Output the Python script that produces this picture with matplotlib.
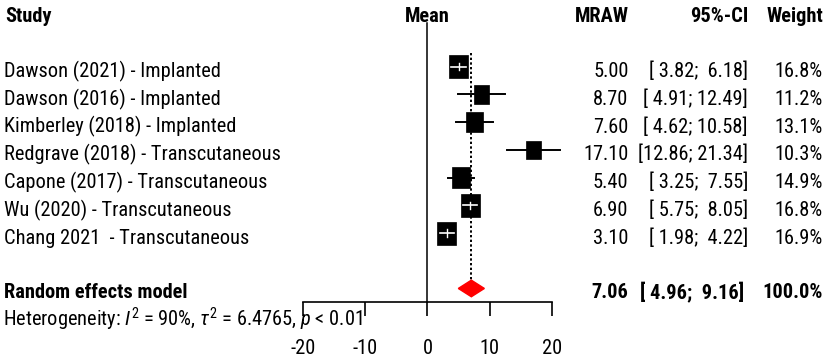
import numpy as np
import matplotlib
matplotlib.use("Agg")
import matplotlib.pyplot as plt
from matplotlib import font_manager
from matplotlib.patches import Rectangle, Polygon
from matplotlib.transforms import blended_transform_factory

# ---------------- data ----------------
studies = ["Dawson (2021) - Implanted", "Dawson (2016) - Implanted",
           "Kimberley (2018) - Implanted", "Redgrave (2018) - Transcutaneous",
           "Capone (2017) - Transcutaneous", "Wu (2020) - Transcutaneous",
           "Chang 2021  - Transcutaneous"]
means = [5.00, 8.70, 7.60, 17.10, 5.40, 6.90, 3.10]
lowers = [3.82, 4.91, 4.62, 12.86, 3.25, 5.75, 1.98]
uppers = [6.18, 12.49, 10.58, 21.34, 7.55, 8.05, 4.22]
weights = [16.8, 11.2, 13.1, 10.3, 14.9, 16.8, 16.9]
pooled_label = "Random effects model"
pooled_mean = 7.06
pooled_lower = 4.96
pooled_upper = 9.16
pooled_weight = 100.0
heterogeneity = r"Heterogeneity: $I^2$ = 90%, $\tau^2$ = 6.4765, $p$ < 0.01"
xticks = [-20, -10, 0, 10, 20]
headers = ["Study", "Mean", "MRAW", "95%-CI", "Weight"]

# ---------------- fonts ----------------
names = {f.name for f in font_manager.fontManager.ttflist}
cands = ["Liberation Sans Narrow", "Arial Narrow", "Roboto Condensed",
         "Archivo Narrow", "PT Sans Narrow", "Liberation Sans"]
main = next(c for c in cands if c in names)
FAM = [main, "DejaVu Sans"]
plt.rcParams["font.family"] = FAM
plt.rcParams["mathtext.fontset"] = "custom"
plt.rcParams["mathtext.rm"] = main
plt.rcParams["mathtext.it"] = main + ":italic"
plt.rcParams["mathtext.bf"] = main + ":bold"

W, H = 829, 358
fig = plt.figure(figsize=(W / 100, H / 100), dpi=100)

# size the font so the first label matches the reference width (~217 px)
renderer = fig.canvas.get_renderer()
probe = fig.text(0, 0, studies[0], fontsize=16)
pw = probe.get_window_extent(renderer).width
probe.remove()
FS = 16 * 217.0 / pw

# geometry (pixels)
x_left_px, x_right_px = 303.3, 551.7     # -20 .. 20
row0_px, row_step = 66.7, 27.72
ytop = -row0_px / row_step
ybot = (H - row0_px) / row_step
ax = fig.add_axes([x_left_px / W, 0, (x_right_px - x_left_px) / W, 1])
ax.set_xlim(-20, 20)
ax.set_ylim(ybot, ytop)
ax.patch.set_visible(False)
for s in ["top", "left", "right"]:
    ax.spines[s].set_visible(False)
axis_row = 8.48
ax.spines["bottom"].set_position(("data", axis_row))
ax.spines["bottom"].set_bounds(-20, 20)
ax.spines["bottom"].set_linewidth(1.2)
ax.set_yticks([])
ax.set_xticks(xticks)
ax.set_xticklabels([])
ax.tick_params(axis="x", direction="out", length=10.3, width=1.2)
px_per_unit = (x_right_px - x_left_px) / 40.0

base_off = 0.38
for t in xticks:
    ax.text(t, 10.36, str(t), ha="center", va="baseline", fontsize=FS, clip_on=False)

# reference lines
ax.plot([0, 0], [-1.57, axis_row], color="black", lw=1.1, clip_on=False)
ax.plot([pooled_mean, pooled_mean], [-0.49, 8 - 0.30], color="black", lw=1.4,
        linestyle=(0, (1.2, 1.2)), clip_on=False)

# studies
for i, (m, lo, hi, w) in enumerate(zip(means, lowers, uppers, weights)):
    f = np.sqrt(w / 16.9)
    bw = 19.4 * f / px_per_unit
    bh = 23.0 * f / row_step
    inside = lo > m - bw / 2 and hi < m + bw / 2
    if not inside:
        ax.plot([lo, hi], [i, i], color="black", lw=1.4, zorder=2, clip_on=False)
    ax.add_patch(Rectangle((m - bw / 2, i - bh / 2), bw, bh, facecolor="black",
                           edgecolor="black", lw=0.5, zorder=3, clip_on=False))
    if inside:
        ax.plot([lo, hi], [i, i], color="white", lw=1.2, zorder=4, clip_on=False)
        ax.plot([m, m], [i - 0.13, i + 0.13], color="white", lw=1.0, zorder=4, clip_on=False)

# pooled diamond
dh = 8.3 / row_step
ax.add_patch(Polygon([(pooled_lower, 8), (pooled_mean, 8 - dh), (pooled_upper, 8),
                      (pooled_mean, 8 + dh)], closed=True, facecolor="red",
                     edgecolor="red", zorder=3, clip_on=False))

# text columns
tr = blended_transform_factory(fig.transFigure, ax.transData)
def px(x):
    return x / W

x_study, x_mraw, x_ci, x_wt = 4, 628.5, 748, 823
hr = -2 + base_off
ax.text(px(5), hr, headers[0], transform=tr, ha="left", va="baseline", fontsize=FS, fontweight="bold")
ax.text(0, hr, headers[1], ha="center", va="baseline", fontsize=FS, fontweight="bold", clip_on=False)
ax.text(px(x_mraw), hr, headers[2], transform=tr, ha="right", va="baseline", fontsize=FS, fontweight="bold")
ax.text(px(x_ci), hr, headers[3], transform=tr, ha="right", va="baseline", fontsize=FS, fontweight="bold")
ax.text(px(x_wt), hr, headers[4], transform=tr, ha="right", va="baseline", fontsize=FS, fontweight="bold")

def ci_str(lo, hi):
    return "[" + f"{lo:5.2f}" + "; " + f"{hi:5.2f}" + "]"

for i, (s, m, lo, hi, w) in enumerate(zip(studies, means, lowers, uppers, weights)):
    y = i + base_off
    ax.text(px(x_study), y, s, transform=tr, ha="left", va="baseline", fontsize=FS)
    ax.text(px(x_mraw), y, f"{m:.2f}", transform=tr, ha="right", va="baseline", fontsize=FS)
    ax.text(px(x_ci), y, ci_str(lo, hi), transform=tr, ha="right", va="baseline", fontsize=FS)
    ax.text(px(x_wt), y, f"{w:.1f}%", transform=tr, ha="right", va="baseline", fontsize=FS)

y = 8 + 0.35
ax.text(px(x_study), y, pooled_label, transform=tr, ha="left", va="baseline", fontsize=FS, fontweight="bold")
ax.text(px(x_mraw), y, f"{pooled_mean:.2f}", transform=tr, ha="right", va="baseline", fontsize=FS, fontweight="bold")
ax.text(px(x_ci - 4), y, ci_str(pooled_lower, pooled_upper), transform=tr, ha="right", va="baseline", fontsize=FS, fontweight="bold")
ax.text(px(x_wt), y, f"{pooled_weight:.1f}%", transform=tr, ha="right", va="baseline", fontsize=FS, fontweight="bold")

ax.text(px(3), 9 + base_off, heterogeneity, transform=tr, ha="left", va="baseline", fontsize=FS)

fig.savefig("out.png", dpi=100)
